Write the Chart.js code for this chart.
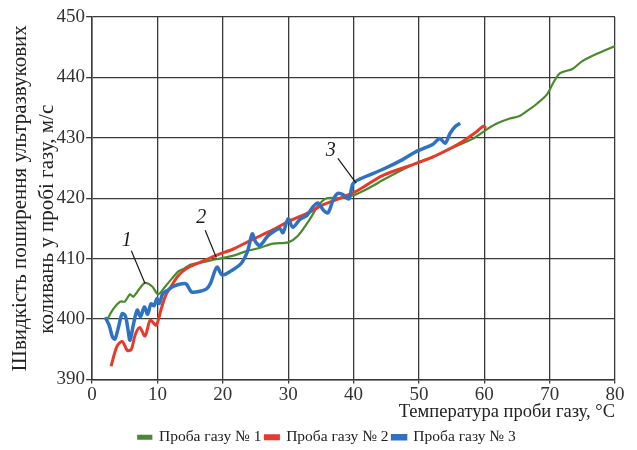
<!DOCTYPE html>
<html>
<head>
<meta charset="utf-8">
<script src="https://cdn.jsdelivr.net/npm/chart.js@4.4.1/dist/chart.umd.min.js"></script>
<style>
    html, body { margin: 0; padding: 0; background: #fff; }
    #wrap { width: 637px; height: 450px; }
</style>
</head>
<body>
<div id="wrap"><canvas id="speedChart" width="637" height="450"></canvas></div>
<script>
// температура (°C) і швидкість (м/с) для кожної проби
var t1 = [2.3, 3.2, 4.3, 5.0, 5.8, 6.3, 7.3, 8.1, 9.2, 10.1, 11.2, 12.2, 13.2, 14.0, 15.0, 16.5, 19.0, 21.6, 23.5, 25.7, 27.7, 30.0, 31.5, 33.3, 34.6, 35.9, 38.0, 40.0, 42.0, 45.0, 48.0, 50.0, 52.0, 54.0, 56.3, 58.5, 60.4, 62.0, 63.9, 65.4, 67.0, 68.0, 69.6, 70.5, 71.6, 73.5, 75.0, 77.2, 80.0];
var v1 = [399.9, 401.6, 402.9, 402.9, 404.1, 403.7, 405.1, 406.0, 405.4, 404.1, 405.4, 406.7, 407.9, 408.3, 409.0, 409.3, 409.9, 410.5, 411.2, 411.8, 412.5, 412.7, 413.8, 416.5, 418.8, 420.0, 420.0, 420.5, 421.5, 423.3, 425.0, 426.0, 426.8, 427.8, 428.9, 430.0, 431.4, 432.4, 433.2, 433.6, 434.8, 435.6, 437.2, 439.0, 440.7, 441.4, 442.7, 443.9, 445.2];

var t2 = [2.9, 3.8, 4.6, 5.4, 6.0, 6.6, 7.3, 8.1, 8.9, 9.8, 10.6, 11.3, 12.2, 13.2, 14.5, 16.3, 19.1, 21.6, 24.2, 27.7, 30.3, 32.9, 35.3, 37.9, 40.5, 44.5, 49.7, 52.1, 54.7, 56.7, 58.8, 59.8, 60.3];
var v2 = [392.2, 395.5, 396.3, 394.8, 395.0, 397.4, 398.6, 397.2, 399.8, 399.0, 401.8, 404.0, 405.6, 407.2, 408.4, 409.3, 410.6, 411.6, 413.0, 414.8, 416.3, 417.5, 418.9, 420.0, 421.2, 423.8, 425.8, 426.8, 428.2, 429.4, 431.0, 431.9, 431.6];

var t3 = [2.0, 2.6, 3.1, 3.5, 4.0, 4.6, 5.1, 5.5, 5.8, 6.3, 6.9, 7.4, 8.0, 8.5, 9.0, 9.5, 9.9, 10.3, 10.8, 11.6, 12.4, 13.5, 14.4, 15.2, 16.5, 17.5, 18.1, 19.1, 19.9, 21.3, 22.8, 23.8, 24.5, 25.0, 25.7, 26.9, 27.8, 28.7, 29.2, 30.0, 30.7, 31.8, 32.9, 33.8, 34.6, 35.4, 36.1, 36.9, 37.6, 38.4, 39.3, 39.9, 41.0, 44.5, 47.5, 49.7, 50.8, 52.1, 53.2, 54.0, 54.8, 55.6, 56.3];
var v3 = [400.3, 399.0, 397.1, 396.7, 398.5, 400.9, 400.5, 398.2, 396.5, 399.0, 401.5, 400.4, 402.0, 400.8, 402.5, 402.2, 403.4, 402.6, 404.2, 404.8, 405.4, 405.8, 405.8, 404.5, 404.6, 405.0, 405.9, 408.6, 407.3, 408.0, 409.2, 411.3, 414.1, 412.8, 412.2, 413.8, 414.5, 415.0, 414.3, 416.6, 415.2, 416.5, 417.2, 418.6, 419.2, 418.0, 417.6, 419.8, 420.8, 420.6, 419.9, 422.4, 423.2, 424.8, 426.4, 427.8, 428.3, 428.9, 429.9, 429.1, 430.8, 431.9, 432.4];

var seriesNames = ['Проба газу № 1', 'Проба газу № 2', 'Проба газу № 3'];
var seriesColors = ['#4a8a2c', '#e8392b', '#2f72c2'];

// виноски 1, 2, 3: текст і кінці лінії (в одиницях осей)
var calloutText = ['1', '2', '3'];
var calloutLabelPos = [[5.3, 413.0], [16.7, 416.8], [36.5, 427.8]];
var calloutLineFrom = [[6.0, 411.3], [17.3, 414.7], [37.6, 426.6]];
var calloutLineTo = [[8.1, 405.9], [19.0, 410.2], [40.4, 422.5]];

function toPoints(xs, ys){
    return xs.map(function(x, i){ return {x: x, y: ys[i]}; });
}

var serif = '"Liberation Serif", "DejaVu Serif", serif';

var calloutPlugin = {
    id: 'callouts',
    afterDatasetsDraw: function(chart){
        var ctx = chart.ctx;
        var xs = chart.scales.x, ys = chart.scales.y;
        ctx.save();
        ctx.strokeStyle = '#1a1a1a';
        ctx.lineWidth = 1.2;
        ctx.fillStyle = '#1a1a1a';
        ctx.font = 'italic 20px ' + serif;
        ctx.textAlign = 'center';
        ctx.textBaseline = 'middle';
        for (var i = 0; i < calloutText.length; i++) {
            ctx.beginPath();
            ctx.moveTo(xs.getPixelForValue(calloutLineFrom[i][0]), ys.getPixelForValue(calloutLineFrom[i][1]));
            ctx.lineTo(xs.getPixelForValue(calloutLineTo[i][0]), ys.getPixelForValue(calloutLineTo[i][1]));
            ctx.stroke();
            ctx.fillText(calloutText[i], xs.getPixelForValue(calloutLabelPos[i][0]), ys.getPixelForValue(calloutLabelPos[i][1]));
        }
        ctx.restore();
    }
};

document.addEventListener('DOMContentLoaded', function() {
    var ctx = document.getElementById('speedChart').getContext('2d');
    var widths = [2.2, 3, 3.5];
    var allData = [toPoints(t1, v1), toPoints(t2, v2), toPoints(t3, v3)];

    var myChart = new Chart(ctx, {
        type: 'line',
        data: {
            datasets: allData.map(function(d, i){
                return {
                    label: seriesNames[i],
                    data: d,
                    borderColor: seriesColors[i],
                    backgroundColor: seriesColors[i],
                    borderWidth: widths[i],
                    pointRadius: 0,
                    tension: 0.3,
                    fill: false,
                    order: 3 - i
                };
            })
        },
        options: {
            responsive: false,
            animation: false,
            // лівий відступ більший, щоб легенда зсунулась вправо; назва осі Y повертається назад через padding.top
            layout: { padding: { left: 39, right: 22, top: 17, bottom: -5 } },
            scales: {
                x: {
                    type: 'linear',
                    min: 0,
                    max: 80,
                    ticks: { stepSize: 10, color: '#333', font: { family: serif, size: 19 }, padding: 0 },
                    grid: { color: '#3a3a3a', lineWidth: 1.3, tickLength: 4 },
                    border: { color: '#3a3a3a', width: 1.5 },
                    title: {
                        display: true,
                        text: 'Температура проби газу, °C',
                        align: 'end',
                        color: '#222',
                        font: { family: serif, size: 18.5 },
                        padding: { top: -5, bottom: 2 }
                    }
                },
                y: {
                    min: 390,
                    max: 450,
                    ticks: { stepSize: 10, color: '#333', font: { family: serif, size: 19 }, padding: 1 },
                    grid: { color: '#3a3a3a', lineWidth: 1.3, tickLength: 6 },
                    border: { color: '#3a3a3a', width: 1.5 },
                    title: {
                        display: true,
                        text: ['Швидкість поширення ультразвукових', 'коливань у пробі газу, м/с        '],
                        color: '#222',
                        font: { family: serif, size: 21, lineHeight: 1.3 },
                        padding: { top: -32, bottom: -6 }
                    }
                }
            },
            plugins: {
                legend: {
                    display: true,
                    position: 'bottom',
                    labels: {
                        boxWidth: 13,
                        boxHeight: 3,
                        padding: 4,
                        color: '#222',
                        font: { family: serif, size: 15.5 },
                        sort: function(a, b){ return a.datasetIndex - b.datasetIndex; }
                    }
                },
                tooltip: { enabled: false }
            }
        },
        plugins: [calloutPlugin]
    });
});
</script>
</body>
</html>
